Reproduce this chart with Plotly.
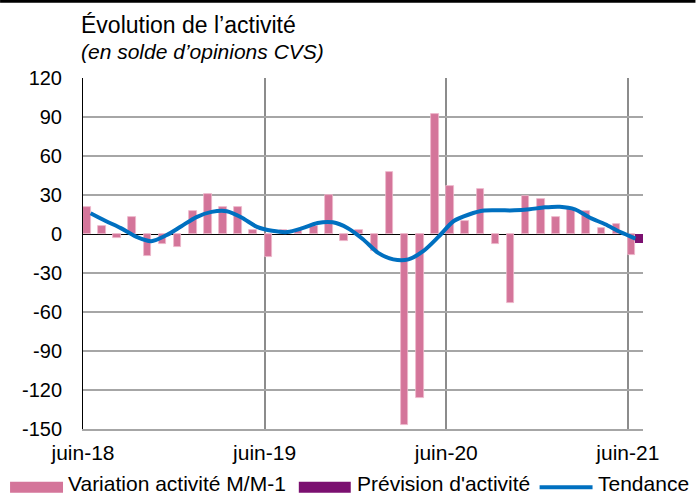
import plotly.graph_objects as go
import pandas as pd

# monthly data, juin-2018 .. juin-2021
months = pd.date_range("2018-06-01", periods=37, freq="MS").strftime("%b-%y").tolist()

variation = [21, 6, -3, 13, -17, -8, -10, 18, 31, 21,
             21, 3, -18, 3, 3, 6, 30, -5, 3, -13,
             48, -147, -126, 92, 37, 10, 35, -8, -53, 29,
             27, 13, 19, 18, 5, 8, -16]
prevision = [None] * 36 + [-7]
tendance = [16, 10, 4.5, -2, -5.5, -1, 6, 13, 17, 17.5,
            12.5, 5.5, 2.5, 1.5, 4.5, 8.5, 9, 4.5, -4, -14.5,
            -19.5, -19.5, -13, -2, 10, 15, 18, 18.2, 18.2, 19,
            20.5, 21, 19, 12.5, 7.5, 1.5, -3.5]

tick_labels = ["juin-18", "juin-19", "juin-20", "juin-21"]
y_ticks = list(range(-150, 121, 30))

PINK = "#D4759A"
PURPLE = "#7B1070"
BLUE = "#0070C0"
FONT = "Liberation Sans"

W, H = 696, 497
PL, PR, PT, PB = 83, 643.5, 78.3, 429.3


def px_x(x):
    return (x - PL) / (PR - PL)


def px_y(y):
    return (PB - y) / (PB - PT)


x = list(range(len(variation)))

fig = go.Figure()
fig.add_trace(go.Bar(
    x=x, y=variation, name="Variation activité M/M-1",
    marker=dict(color=PINK, line=dict(color="#EDB8CC", width=0.8)),
    customdata=months, hovertemplate="%{customdata}: %{y}<extra></extra>",
    showlegend=False,
))
fig.add_trace(go.Bar(
    x=x, y=prevision, name="Prévision d'activité",
    marker=dict(color=PURPLE, line=dict(width=0)),
    showlegend=False,
))
fig.add_trace(go.Scatter(
    x=x, y=tendance, name="Tendance", mode="lines",
    line=dict(color=BLUE, width=4, shape="spline", smoothing=0.8),
    showlegend=False,
))

# custom legend (wide swatches like the original)
shapes = [
    dict(type="rect", xref="paper", yref="paper",
         x0=px_x(0), x1=px_x(W), y0=px_y(3), y1=px_y(0),
         fillcolor="black", line=dict(width=0)),
    dict(type="rect", xref="paper", yref="paper",
         x0=px_x(10), x1=px_x(63), y0=px_y(493), y1=px_y(482),
         fillcolor=PINK, line=dict(width=0)),
    dict(type="rect", xref="paper", yref="paper",
         x0=px_x(299), x1=px_x(351), y0=px_y(493), y1=px_y(482),
         fillcolor=PURPLE, line=dict(width=0)),
    dict(type="line", xref="paper", yref="paper",
         x0=px_x(540), x1=px_x(593), y0=px_y(487.5), y1=px_y(487.5),
         line=dict(color=BLUE, width=4)),
]

legend_font = dict(family=FONT, size=21, color="black")
annotations = [
    dict(text="Évolution de l’activité", xref="paper", yref="paper",
         x=px_x(79), y=px_y(25.5), xanchor="left", yanchor="middle",
         showarrow=False, font=dict(family=FONT, size=23, color="black")),
    dict(text="<i>(en solde d’opinions CVS)</i>", xref="paper", yref="paper",
         x=px_x(79), y=px_y(51.5), xanchor="left", yanchor="middle",
         showarrow=False, font=dict(family=FONT, size=21, color="black")),
]
for label, left in [("Variation activité M/M-1", 66),
                    ("Prévision d'activité", 355),
                    ("Tendance", 596)]:
    annotations.append(dict(
        text=label, xref="paper", yref="paper",
        x=px_x(left), y=px_y(497), xanchor="left", yanchor="bottom",
        showarrow=False, font=legend_font,
    ))

fig.update_layout(
    width=W, height=H,
    margin=dict(l=PL, r=W - PR, t=PT, b=H - PB),
    plot_bgcolor="white", paper_bgcolor="white",
    barmode="group", bargap=0, bargroupgap=0,
    font=dict(family=FONT, color="black"),
    shapes=shapes, annotations=annotations,
)
fig.update_xaxes(
    range=[-0.5, 36.5],
    tickvals=[-0.5, 11.5, 23.5, 35.5], ticktext=tick_labels,
    showgrid=True, gridcolor="#8C8C8C", gridwidth=2,
    showline=True, linecolor="#A6A6A6", linewidth=2,
    zeroline=False, ticks="", ticklabelstandoff=4,
    tickfont=dict(family=FONT, size=21, color="black"),
)
fig.update_yaxes(
    range=[-150, 120], tickvals=y_ticks, ticktext=[str(v) for v in y_ticks],
    showgrid=True, gridcolor="#A6A6A6", gridwidth=1.5,
    zeroline=True, zerolinecolor="black", zerolinewidth=1,
    showline=True, linecolor="black", linewidth=1,
    ticks="", ticklabelstandoff=16,
    tickfont=dict(family=FONT, size=20, color="black"),
)

fig.write_html(
    "out.html",
    config={"displayModeBar": False},
    post_script="document.body.style.margin='0px';",
)
